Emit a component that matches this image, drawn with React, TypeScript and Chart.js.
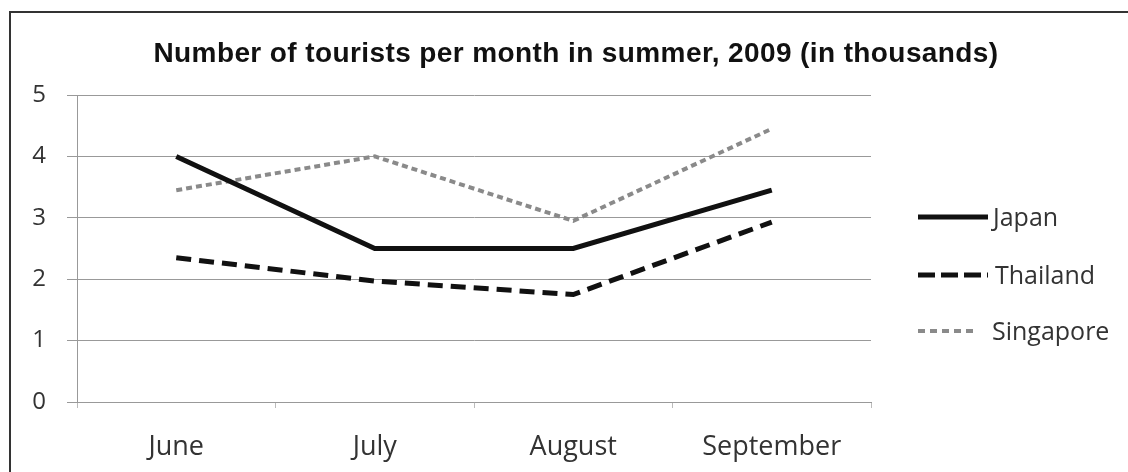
import React, { useEffect, useRef } from "react";
import { Chart, registerables } from "chart.js";

Chart.register(...registerables);

const TITLE = "Number of tourists per month in summer, 2009 (in thousands)";
const months = ["June", "July", "August", "September"];
const japan = [4.0, 2.5, 2.5, 3.45];
const thailand = [2.35, 1.97, 1.75, 2.93];
const singapore = [3.45, 4.0, 2.95, 4.45];
const yTicks = [0, 1, 2, 3, 4, 5];

const LABEL_FONT = "'Open Sans', 'DejaVu Sans', sans-serif";

const decorPlugin = {
  id: "decor",
  afterDraw(chart: any) {
    const ctx = chart.ctx as CanvasRenderingContext2D;
    ctx.save();
    // frame
    ctx.strokeStyle = "#333";
    ctx.lineWidth = 2;
    ctx.strokeRect(10, 12, 1140, 480);
    // title
    ctx.fillStyle = "#111";
    ctx.font = "bold 28px 'Liberation Sans', Arial, sans-serif";
    (ctx as any).letterSpacing = "0.4px";
    ctx.textAlign = "center";
    ctx.textBaseline = "alphabetic";
    ctx.fillText(TITLE, 576, 62);
    (ctx as any).letterSpacing = "0px";
    // legend
    const ys = [217, 275, 331];
    const lens = [70, 70, 57];
    const textX = [993, 995, 992];
    chart.data.datasets.forEach((ds: any, i: number) => {
      const y = ys[i];
      ctx.save();
      ctx.strokeStyle = ds.borderColor;
      ctx.lineWidth = ds.borderWidth;
      ctx.setLineDash(ds.legendDash || ds.borderDash || []);
      ctx.beginPath();
      ctx.moveTo(918, y);
      ctx.lineTo(918 + lens[i], y);
      ctx.stroke();
      ctx.restore();
      ctx.fillStyle = "#333";
      ctx.font = `25px ${LABEL_FONT}`;
      ctx.textAlign = "left";
      ctx.textBaseline = "alphabetic";
      ctx.fillText(ds.label, textX[i], y + 9);
    });
    ctx.restore();
  },
};

export default function App() {
  const ref = useRef<HTMLCanvasElement | null>(null);
  useEffect(() => {
    document.body.style.margin = "0";
    const canvas = ref.current!;
    const chart = new Chart(canvas, {
      type: "line",
      data: {
        labels: months,
        datasets: [
          {
            label: "Japan",
            data: japan,
            borderColor: "#111",
            borderWidth: 5,
            pointRadius: 0,
            tension: 0,
          },
          {
            label: "Thailand",
            data: thailand,
            borderColor: "#111",
            borderWidth: 5,
            borderDash: [15, 8],
            legendDash: [17, 6],
            pointRadius: 0,
            tension: 0,
          } as any,
          {
            label: "Singapore",
            data: singapore,
            borderColor: "#8a8a8a",
            borderWidth: 4,
            borderDash: [6, 4],
            legendDash: [7, 5],
            pointRadius: 0,
            tension: 0,
          } as any,
        ],
      },
      options: {
        responsive: false,
        animation: false,
        devicePixelRatio: 1,
        layout: { padding: { top: 95, right: 257, bottom: 0, left: 0 } },
        plugins: {
          legend: { display: false },
          title: { display: false },
          tooltip: { enabled: false },
        },
        scales: {
          x: {
            offset: true,
            grid: {
              offset: true,
              drawOnChartArea: false,
              drawTicks: true,
              tickLength: 6,
              color: "#bbb",
            },
            border: { display: true, color: "#999" },
            ticks: {
              padding: 23,
              color: "#333",
              font: { family: LABEL_FONT, size: 27 },
            },
            afterFit(scale: any) {
              scale.height = 70;
            },
          },
          y: {
            min: 0,
            max: 5,
            afterBuildTicks(scale: any) {
              scale.ticks = yTicks.map((v) => ({ value: v }));
            },
            grid: { color: "#999", tickLength: 10, lineWidth: 1 },
            border: { display: true, color: "#999" },
            ticks: {
              padding: 21,
              color: "#333",
              font: { family: LABEL_FONT, size: 24 },
            },
            afterFit(scale: any) {
              scale.width = 77;
            },
          },
        },
      },
      plugins: [decorPlugin],
    });
    return () => chart.destroy();
  }, []);
  return (
    <div style={{ width: 1128, height: 472, background: "#fff" }}>
      <canvas ref={ref} width={1128} height={472} style={{ display: "block" }} />
    </div>
  );
}
